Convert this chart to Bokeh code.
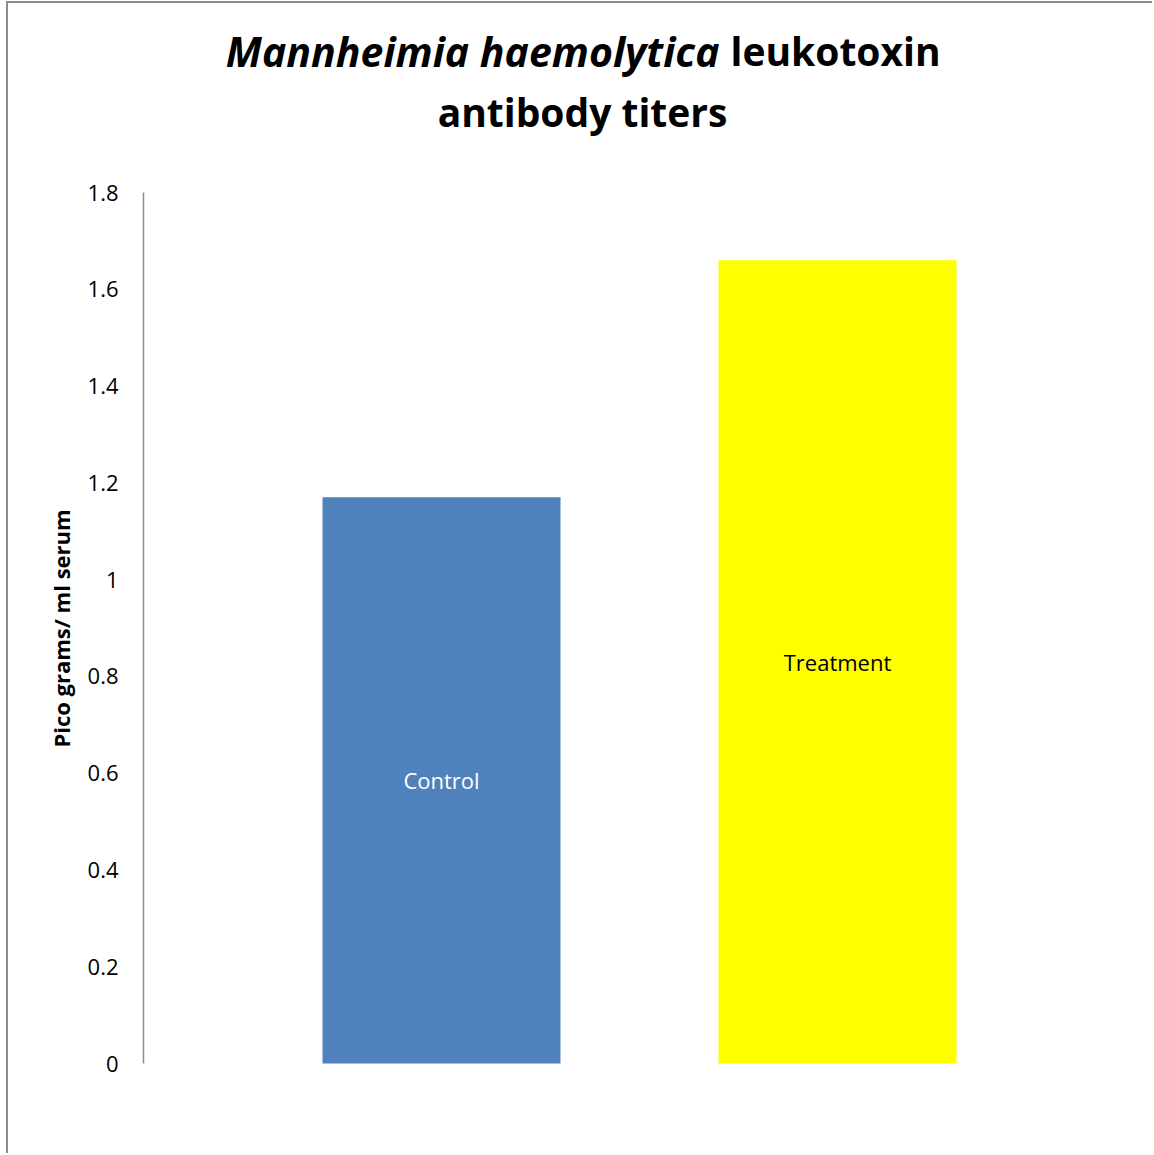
import math
from bokeh.plotting import figure
from bokeh.models import ColumnDataSource, Range1d, FixedTicker, Label
from bokeh.core.properties import value
from bokeh.embed import file_html
from bokeh.resources import INLINE

categories = ["Control", "Treatment"]
values = [1.17, 1.66]
bar_colors = ["#4F81BD", "#FFFF00"]
label_colors = ["#FFFFFF", "#000000"]
tick_values = [0, 0.2, 0.4, 0.6, 0.8, 1.0, 1.2, 1.4, 1.6, 1.8]
tick_labels = ["0", "0.2", "0.4", "0.6", "0.8", "1", "1.2", "1.4", "1.6", "1.8"]
title_italic = "Mannheimia haemolytica"
title_rest = "leukotoxin"
title_line2 = "antibody titers"
y_label = "Pico grams/ ml serum"

FONT = "Open Sans"

# ---- layout (page pixels) ----
ORG_X, ORG_Y = 8, 3                 # canvas top-left on the page
W, H = 1146, 1152
Y0_PX, YMAX_PX = 1063, 192          # page y of value 0 and 1.8
X0_PX, X1_PX = 441, 837             # page x of the two category centres
AXIS_PX = 143                       # page x of the value axis line
py_per_unit = (Y0_PX - YMAX_PX) / tick_values[-1]
px_per_cat = X1_PX - X0_PX

x_start = (ORG_X - X0_PX) / px_per_cat
x_end = (ORG_X + W - X0_PX) / px_per_cat
y_start = -(ORG_Y + H - Y0_PX) / py_per_unit
y_end = (Y0_PX - ORG_Y) / py_per_unit


def sx(px):
    return px - ORG_X


def sy(py):
    return ORG_Y + H - py


src = ColumnDataSource(dict(
    x=list(range(len(categories))),
    top=values,
    mid=[v / 2 for v in values],
    name=categories,
    color=bar_colors,
    tcolor=label_colors,
))

p = figure(width=W, height=H, output_backend="svg", toolbar_location=None,
           x_range=Range1d(x_start, x_end), y_range=Range1d(y_start, y_end),
           min_border_left=0, min_border_right=0, min_border_top=0,
           min_border_bottom=0)
p.outline_line_color = None
p.xgrid.visible = False
p.ygrid.visible = False
p.xaxis.visible = False
p.background_fill_color = "white"
p.border_fill_color = "white"
p.styles = {"border-left": "2px solid #8c8c8c", "border-top": "2px solid #8c8c8c",
            "margin-left": "6px", "margin-top": "1px"}

p.vbar(x="x", top="top", bottom=0, width=0.601, fill_color="color", line_color=None, source=src)
p.text(x="x", y="mid", text="name", text_color="tcolor", text_align="center",
       text_baseline="middle", text_font=value(FONT), text_font_size="22px", source=src)

ya = p.yaxis[0]
ya.fixed_location = (AXIS_PX - X0_PX) / px_per_cat
ya.bounds = (tick_values[0], tick_values[-1])
ya.ticker = FixedTicker(ticks=tick_values)
ya.major_label_overrides = {v: l for v, l in zip(tick_values, tick_labels)}
ya.major_tick_out = 0
ya.major_tick_in = 0
ya.minor_tick_out = 0
ya.minor_tick_in = 0
ya.major_label_standoff = 25
ya.major_label_text_font = FONT
ya.major_label_text_font_size = "22px"
ya.major_label_text_color = "black"
ya.axis_line_color = "#8c8c8c"
ya.axis_line_width = 1.5

# y-axis title
p.add_layout(Label(x=sx(60), y=sy(628), x_units="screen", y_units="screen",
                   text=y_label, angle=math.pi / 2, text_align="center",
                   text_baseline="middle", text_font=FONT, text_font_style="bold",
                   text_font_size="22px", text_color="black"))

# Chart title (mixed italic / bold)
p.add_layout(Label(x=sx(719), y=sy(50), x_units="screen", y_units="screen",
                   text=title_italic, text_align="right", text_baseline="alphabetic",
                   text_font=FONT, text_font_style="bold italic", text_font_size="41px",
                   text_color="black"))
p.add_layout(Label(x=sx(730), y=sy(50), x_units="screen", y_units="screen",
                   text=title_rest, text_align="left", text_baseline="alphabetic",
                   text_font=FONT, text_font_style="bold", text_font_size="39px",
                   text_color="black"))
p.add_layout(Label(x=sx(582), y=sy(111), x_units="screen", y_units="screen",
                   text=title_line2, text_align="center", text_baseline="alphabetic",
                   text_font=FONT, text_font_style="bold", text_font_size="39px",
                   text_color="black"))

open("out.html", "w").write(file_html(p, INLINE))
